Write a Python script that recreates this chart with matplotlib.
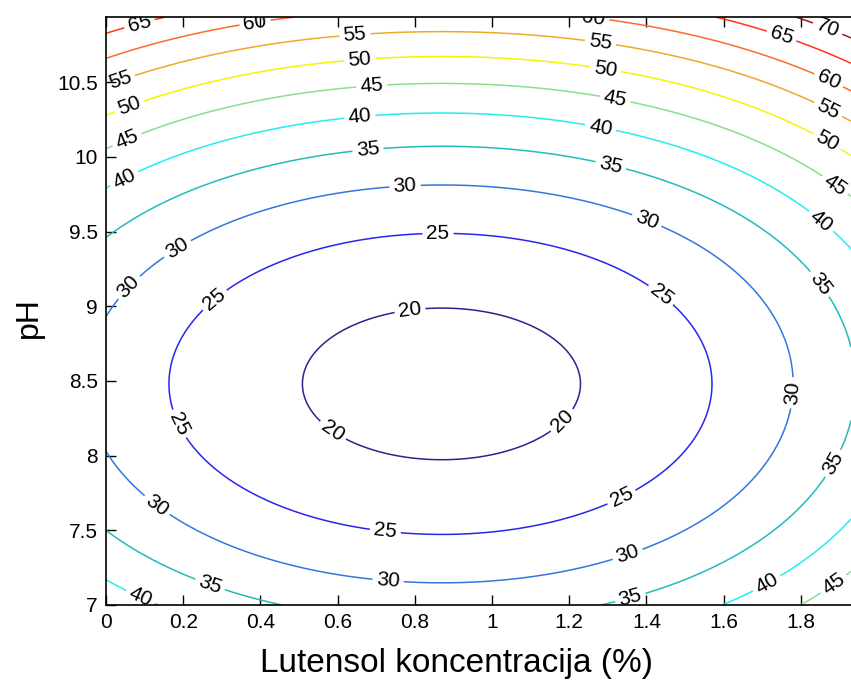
import numpy as np
import matplotlib
matplotlib.use("Agg")
import matplotlib.pyplot as plt

plt.rcParams['font.family'] = ['Liberation Sans', 'DejaVu Sans']

# Response-surface coefficients
z_min = 18.3          # minimum of the surface
x_opt = 0.87          # Lutensol concentration at minimum (%)
y_opt = 8.48          # pH at minimum
coef_x2 = 12.95       # curvature along concentration
coef_y2 = 6.6         # curvature along pH
coef_x3 = 0.2         # skew along concentration
coef_x4 = 1.2         # quartic term along concentration

levels = [20, 25, 30, 35, 40, 45, 50, 55, 60, 65, 70]
level_colors = ['#262690', '#2626f0', '#3377dd', '#22bbbb', '#22eeee', '#88e088',
                '#f5f500', '#f0a828', '#ff6a2a', '#ff3318', '#a01818']

x_range = (0.0, 1.93)
y_range = (7.0, 10.936)
xticks = [0, 0.2, 0.4, 0.6, 0.8, 1, 1.2, 1.4, 1.6, 1.8]
xticklabels = ['0', '0.2', '0.4', '0.6', '0.8', '1', '1.2', '1.4', '1.6', '1.8']
yticks = [7, 7.5, 8, 8.5, 9, 9.5, 10, 10.5]
yticklabels = ['7', '7.5', '8', '8.5', '9', '9.5', '10', '10.5']
xlabel = 'Lutensol koncentracija (%)'
ylabel = 'pH'

# label anchor positions (as in the reference)
label_pos = [
    (0.788, 8.96), (0.58, 8.14), (1.18, 8.24),
    (0.86, 9.49), (0.282, 9.04), (0.179, 8.2), (0.723, 7.48), (1.332, 7.74), (1.427, 9.04),
    (0.775, 9.79), (0.187, 9.376), (0.127, 7.65), (0.731, 7.167), (1.35, 7.35), (1.396, 9.54), (1.78, 8.42),
    (0.679, 10.03), (0.088, 9.055), (0.269, 7.134), (1.358, 7.054), (1.306, 9.925), (1.845, 9.14), (1.889, 7.94),
    (0.658, 10.26), (0.049, 9.845), (0.088, 7.047), (1.707, 7.167), (1.28, 10.18), (1.837, 9.52),
    (0.689, 10.467), (0.049, 10.146), (1.319, 10.38), (1.889, 9.81), (1.896, 7.1),
    (0.658, 10.634), (0.062, 10.327), (1.293, 10.568), (1.863, 10.08),
    (0.645, 10.80), (0.036, 10.514), (1.28, 10.75), (1.87, 10.31),
    (0.386, 10.90), (1.262, 10.90), (1.87, 10.5),
    (0.088, 10.88), (1.746, 10.78),
    (1.863, 10.815),
]

xs = np.linspace(x_range[0], x_range[1], 400)
ys = np.linspace(y_range[0], y_range[1], 400)
X, Y = np.meshgrid(xs, ys)
dx = X - x_opt
dy = Y - y_opt
Z = z_min + coef_x2 * dx**2 + coef_y2 * dy**2 + coef_x3 * dx**3 + coef_x4 * dx**4

fig = plt.figure(figsize=(8.51, 6.84), dpi=100)
ax = fig.add_axes([106/851, 79/684, 1 - 106/851, 588/684])

cs = ax.contour(X, Y, Z, levels=levels, colors=level_colors, linewidths=1.1)
ax.clabel(cs, fmt='%d', inline=True, fontsize=15, colors='black',
          manual=label_pos, inline_spacing=4)

ax.set_xlim(*x_range)
ax.set_ylim(*y_range)
ax.set_xticks(xticks)
ax.set_xticklabels(xticklabels)
ax.set_yticks(yticks)
ax.set_yticklabels(yticklabels)
ax.tick_params(direction='in', length=7, width=1, top=True, right=False,
               labelsize=15, colors='black', pad=6)
for s in ['left', 'bottom', 'top']:
    ax.spines[s].set_linewidth(1.2)
ax.spines['right'].set_visible(False)

ax.set_xlabel(xlabel, fontsize=24)
ax.xaxis.set_label_coords((457 - 106) / 745, -(679 - 605) / 588, transform=ax.transAxes)
ax.set_ylabel(ylabel, fontsize=23)
ax.yaxis.set_label_coords(-(106 - 44) / 745, (605 - 318) / 588, transform=ax.transAxes)
ax.xaxis.label.set_va('bottom')
ax.yaxis.label.set_va('bottom')

fig.savefig('out.png', dpi=100)
